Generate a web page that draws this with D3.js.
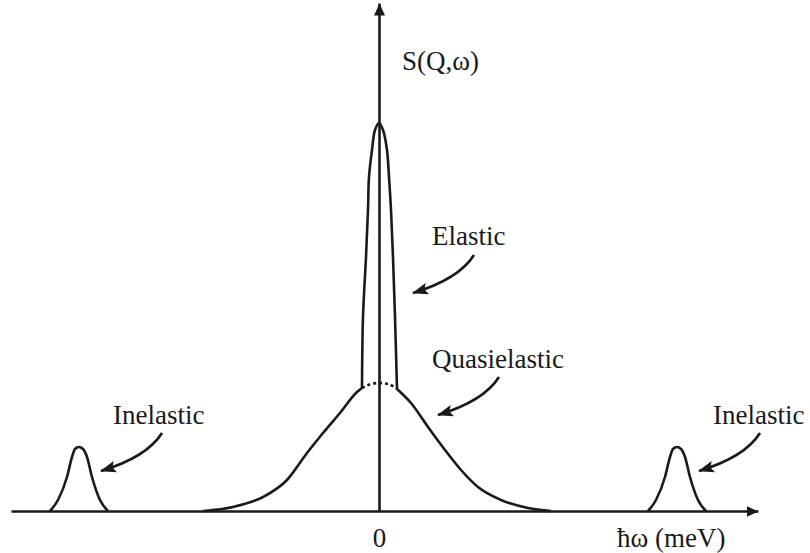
<!DOCTYPE html>
<html>
<head>
<meta charset="utf-8">
<script src="https://cdn.jsdelivr.net/npm/d3@7"></script>
<style>
  body { margin: 0; background: #fff; }
  text { font-family: "Liberation Serif", "Times New Roman", serif; fill: #1a1a1a; }
</style>
</head>
<body>
<svg id="chart" width="810" height="553"></svg>
<script>
// energy transfer (arbitrary units), 0 = elastic line
var xTicks = [0];
var xTickLabels = ["0"];

// quasielastic broad line
var quasiLeft = [[-1.76,0.0],[-1.46,0.04],[-1.16,0.14],[-0.92,0.31],[-0.72,0.58],[-0.56,0.78],[-0.39,0.98],[-0.22,1.19],[-0.17,1.23]];
var quasiHidden = [[-0.17,1.23],[-0.08,1.27],[0,1.28],[0.09,1.27],[0.18,1.22]];
var quasiRight = [[0.18,1.22],[0.32,1.08],[0.49,0.84],[0.66,0.61],[0.82,0.41],[0.99,0.24],[1.22,0.11],[1.49,0.03],[1.72,0.0]];

// elastic narrow line sitting on the quasielastic one
var elastic = [[-0.17,1.23],[-0.16,1.94],[-0.13,2.54],[-0.11,3.01],[-0.10,3.34],[-0.07,3.61],[-0.04,3.81],[0,3.88],
               [0.04,3.81],[0.08,3.61],[0.10,3.34],[0.12,3.01],[0.14,2.54],[0.16,1.94],[0.18,1.22]];

// inelastic side peaks
var inelasticLeft = [[-3.29,0],[-3.21,0.11],[-3.12,0.34],[-3.07,0.54],[-3.04,0.62],[-3.0,0.64],[-2.96,0.62],[-2.92,0.54],[-2.87,0.34],[-2.79,0.11],[-2.71,0]];
var inelasticRight = [[2.69,0],[2.77,0.11],[2.86,0.34],[2.91,0.54],[2.94,0.62],[2.98,0.64],[3.02,0.62],[3.06,0.54],[3.11,0.34],[3.19,0.11],[3.27,0]];

// labels and where their arrows start (data units)
var labels = ["Elastic", "Quasielastic", "Inelastic", "Inelastic"];
var labelPos = [[0.53,2.66],[0.53,1.43],[-2.66,0.87],[3.34,0.87]];
var arrowStart = [[0.95,2.56],[1.20,1.34],[-2.17,0.78],[3.81,0.78]];

var svg = d3.select("#chart");
var ink = "#1a1a1a";

var x = d3.scaleLinear().domain([-3.68, 3.79]).range([11, 758]);
var y = d3.scaleLinear().domain([0, 5.08]).range([511, 3]);

var defs = svg.append("defs");
defs.append("marker")
  .attr("id","axhead").attr("markerUnits","userSpaceOnUse")
  .attr("viewBox","0 -7 14 14").attr("markerWidth",14).attr("markerHeight",14)
  .attr("refX",12).attr("refY",0).attr("orient","auto")
  .append("path").attr("d","M0,-5.5L12,0L0,5.5Z").attr("fill",ink);
defs.append("marker")
  .attr("id","arhead").attr("markerUnits","userSpaceOnUse")
  .attr("viewBox","0 -8 18 16").attr("markerWidth",18).attr("markerHeight",16)
  .attr("refX",15).attr("refY",0).attr("orient","auto")
  .append("path").attr("d","M0,-6L16,0L0,6L3,0Z").attr("fill",ink);

var line = d3.line()
  .x(function(d){ return x(d[0]); })
  .y(function(d){ return y(d[1]); })
  .curve(d3.curveMonotoneX);

var lineRound = d3.line()
  .x(function(d){ return x(d[0]); })
  .y(function(d){ return y(d[1]); })
  .curve(d3.curveCatmullRom.alpha(0.5));

// axes
var gx = svg.append("g").attr("transform","translate(0," + y(0) + ")")
  .call(d3.axisBottom(x).tickValues(xTicks).tickSize(0).tickSizeOuter(0)
        .tickFormat(function(d,i){ return xTickLabels[i]; }));
gx.select(".domain").attr("stroke",ink).attr("stroke-width",2.6).attr("marker-end","url(#axhead)");
gx.selectAll(".tick text").attr("y",36).attr("dy",0).attr("font-size",27)
  .attr("font-family","Liberation Serif, serif").attr("fill",ink);

var gy = svg.append("g").attr("transform","translate(" + x(0) + ",0)")
  .call(d3.axisLeft(y).tickValues([]).tickSize(0).tickSizeOuter(0));
gy.select(".domain").attr("stroke",ink).attr("stroke-width",2.6).attr("marker-end","url(#axhead)");

// curves
[quasiLeft, quasiRight, inelasticLeft, inelasticRight].forEach(function(s){
  svg.append("path").datum(s).attr("d",line)
    .attr("fill","none").attr("stroke",ink).attr("stroke-width",2.6);
});
svg.append("path").datum(quasiHidden).attr("d",line)
  .attr("fill","none").attr("stroke",ink).attr("stroke-width",2.6).attr("stroke-dasharray","3,3");
svg.append("path").datum(elastic).attr("d",lineRound)
  .attr("fill","none").attr("stroke",ink).attr("stroke-width",2.6);

// labels
svg.selectAll(".lab").data(labels).enter().append("text")
  .attr("class","lab")
  .attr("x",function(d,i){ return x(labelPos[i][0]); })
  .attr("y",function(d,i){ return y(labelPos[i][1]); })
  .attr("font-size",27)
  .text(function(d){ return d; });

// curved arrows
svg.selectAll(".arr").data(arrowStart).enter().append("path")
  .attr("class","arr")
  .attr("d",function(d){
    var sx = x(d[0]), sy = y(d[1]);
    return "M" + sx + "," + sy + "Q" + (sx-15) + "," + (sy+24) + " " + (sx-61) + "," + (sy+38);
  })
  .attr("fill","none").attr("stroke",ink).attr("stroke-width",2.6)
  .attr("marker-end","url(#arhead)");

// axis titles
svg.append("text").attr("x",402).attr("y",70).attr("font-size",27).text("S(Q,\u03c9)");
svg.append("text").attr("x",617).attr("y",547).attr("font-size",27).text("\u0127\u03c9 (meV)");
</script>
</body>
</html>
